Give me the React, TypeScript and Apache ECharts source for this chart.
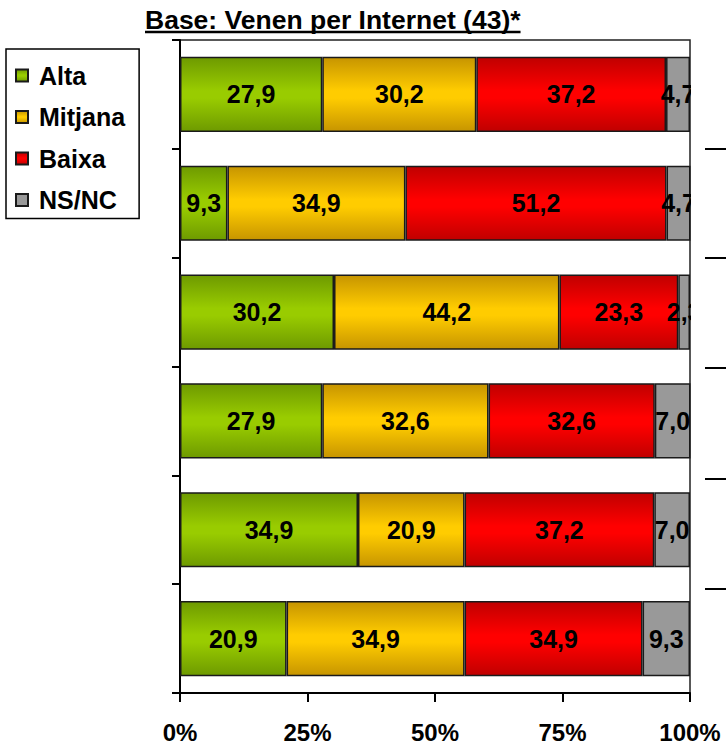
import React, { useEffect, useRef } from 'react';
import * as echarts from 'echarts';

const categories = ['1', '2', '3', '4', '5', '6'];
const seriesNames = ['Alta', 'Mitjana', 'Baixa', 'NS/NC'];
const alta = [27.9, 9.3, 30.2, 27.9, 34.9, 20.9];
const mitjana = [30.2, 34.9, 44.2, 32.6, 20.9, 34.9];
const baixa = [37.2, 51.2, 23.3, 32.6, 37.2, 34.9];
const nsnc = [4.7, 4.7, 2.3, 7.0, 7.0, 9.3];
const xMin = 0;
const xMax = 100;
const xInterval = 25;
const titleText = 'Base: Venen per Internet (43)*';

const FONT = '"Liberation Sans", Arial, sans-serif';

const vGrad = (edge: string, mid: string) => ({
  type: 'linear',
  x: 0, y: 0, x2: 0, y2: 1,
  colorStops: [
    { offset: 0, color: edge },
    { offset: 0.45, color: mid },
    { offset: 0.55, color: mid },
    { offset: 1, color: edge },
  ],
});

const fills = [
  vGrad('#6e9a00', '#99cc00'),
  vGrad('#c79500', '#ffcc00'),
  vGrad('#c00000', '#ff0000'),
  '#999999',
];

export default function App() {
  const ref = useRef<HTMLDivElement>(null);
  useEffect(() => {
    document.body.style.margin = '0';
    if (!ref.current) return;
    const chart = echarts.init(ref.current, undefined, { renderer: 'svg' });

    const titleFont = `bold 26.5px ${FONT}`;
    let titleW = 377;
    try {
      const ctx = document.createElement('canvas').getContext('2d');
      if (ctx) {
        ctx.font = titleFont;
        titleW = ctx.measureText(titleText).width;
      }
    } catch (e) {}
    const titleX = 145;

    const values = [alta, mitjana, baixa, nsnc];
    const series = seriesNames.map((name, i) => ({
      name,
      type: 'bar',
      stack: 'total',
      barCategoryGap: '31%',
      data: values[i],
      itemStyle: { color: fills[i], borderColor: '#1a1a1a', borderWidth: 1.5 },
      label: {
        show: true,
        position: 'inside',
        color: '#000',
        fontSize: 25,
        fontWeight: 'bold',
        fontFamily: FONT,
        textBorderWidth: 0,
        formatter: (p: any) => Number(p.value).toFixed(1).replace('.', ','),
      },
      emphasis: { disabled: true },
    }));

    const rightTicks = [149, 258, 368, 479, 589];

    chart.setOption({
      animation: false,
      textStyle: { fontFamily: FONT },
      grid: {
        left: 180, right: 36, top: 40, bottom: 54,
        show: true, borderColor: '#222', borderWidth: 1.5, backgroundColor: 'transparent',
      },
      legend: {
        orient: 'vertical',
        left: 6,
        top: 49,
        icon: 'rect',
        itemWidth: 12,
        itemHeight: 12,
        itemGap: 16.5,
        padding: [14, 14, 6, 9],
        borderColor: '#000',
        borderWidth: 1.5,
        backgroundColor: '#fff',
        selectedMode: false,
        data: seriesNames,
        textStyle: { fontSize: 25, fontWeight: 'bold', color: '#000', fontFamily: FONT, padding: [0, 0, 0, 6] },
      },
      xAxis: {
        type: 'value',
        min: xMin,
        max: xMax,
        interval: xInterval,
        splitLine: { show: false },
        axisLine: { show: true, lineStyle: { color: '#000', width: 2 } },
        axisTick: { show: true, length: 9, lineStyle: { color: '#000', width: 2 } },
        axisLabel: {
          formatter: '{value}%', fontSize: 24, fontWeight: 'bold', color: '#000', margin: 27, fontFamily: FONT,
        },
      },
      yAxis: {
        type: 'category',
        inverse: true,
        data: categories,
        axisLine: { show: true, lineStyle: { color: '#000', width: 2 } },
        axisTick: { show: true, length: 8, lineStyle: { color: '#000', width: 2 } },
        axisLabel: { show: false },
        splitLine: { show: false },
      },
      graphic: [
        {
          type: 'text', x: titleX, y: 20, z: 100,
          style: { text: titleText, font: titleFont, fill: '#000', align: 'left', verticalAlign: 'middle' },
        },
        {
          type: 'line', z: 100,
          shape: { x1: titleX, y1: 32, x2: titleX + titleW, y2: 32 },
          style: { stroke: '#000', lineWidth: 2.5 },
        },
        {
          type: 'rect', z: 100,
          shape: { x: 691, y: 36, width: 13, height: 656 },
          style: { fill: '#fff' },
        },
        ...rightTicks.map((y) => ({
          type: 'line', z: 100,
          shape: { x1: 705, y1: y, x2: 726, y2: y },
          style: { stroke: '#000', lineWidth: 2 },
        })),
      ],
      series,
    });
    return () => chart.dispose();
  }, []);
  return <div ref={ref} style={{ width: 726, height: 747 }} />;
}
